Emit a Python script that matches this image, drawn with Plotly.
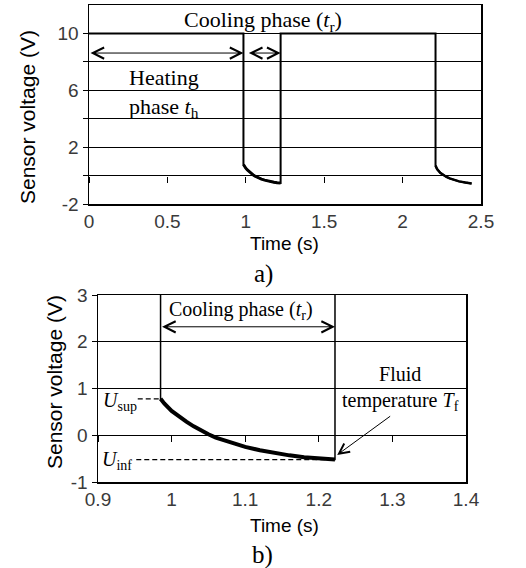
import plotly.graph_objects as go

W, H = 526, 568

# ---------------- data ----------------
heat_level = 10.0
heat1_t = [0.0, 0.985]
cool1_t = [0.985, 0.99, 1.0, 1.01, 1.02, 1.03, 1.04, 1.05, 1.06, 1.08,
           1.10, 1.12, 1.14, 1.16, 1.18, 1.20, 1.222]
cool1_v = [0.78, 0.68, 0.52, 0.40, 0.29, 0.19, 0.10, 0.02, -0.05, -0.16,
           -0.25, -0.32, -0.38, -0.43, -0.47, -0.50, -0.52]
heat2_t = [1.222, 2.21]
cool2_t = [2.21, 2.22, 2.24, 2.26, 2.28, 2.30, 2.33, 2.36, 2.40, 2.44]
cool2_v = [0.70, 0.45, 0.20, 0.02, -0.10, -0.20, -0.32, -0.41, -0.49, -0.55]

signal_t = heat1_t + cool1_t + heat2_t + cool2_t
signal_v = [heat_level] * 2 + cool1_v + [heat_level] * 2 + cool2_v

top_xticks = [0, 0.5, 1, 1.5, 2, 2.5]
top_xlabels = ["0", "0.5", "1", "1.5", "2", "2.5"]
top_yticks = [-2, 0, 2, 4, 6, 8, 10]
top_ylabels = ["-2", "", "2", "", "6", "", "10"]
bot_xticks = [0.9, 1.0, 1.1, 1.2, 1.3, 1.4]
bot_xlabels = ["0.9", "1", "1.1", "1.2", "1.3", "1.4"]
bot_yticks = [-1, 0, 1, 2, 3]
bot_ylabels = ["-1", "0", "1", "2", "3"]

u_sup = cool1_v[0]
u_inf = cool1_v[-1]

# ---------------- layout helpers ----------------
def px(x):
    return x / W

def py(y):
    return 1 - y / H

top_xdom = [px(89), px(481)]
top_ydom = [py(204), py(5)]
bot_xdom = [px(98), px(466)]
bot_ydom = [py(482), py(295)]
top_xr, top_yr = [0, 2.5], [-2, 12]
bot_xr, bot_yr = [0.9, 1.4], [-1, 3]

def zero_pos(dom, rng):
    return dom[0] + (0 - rng[0]) / (rng[1] - rng[0]) * (dom[1] - dom[0])

SANS = "Liberation Sans, Arial, sans-serif"
SERIF = "Liberation Serif, Times New Roman, serif"
tickfont = dict(family=SANS, size=19, color="#3a3a3a")

fig = go.Figure()

# signal traces
fig.add_trace(go.Scatter(x=signal_t, y=signal_v, mode="lines",
                         line=dict(color="black", width=2), xaxis="x", yaxis="y",
                         hoverinfo="skip"))
fig.add_trace(go.Scatter(x=cool1_t, y=cool1_v, mode="lines",
                         line=dict(color="black", width=3), xaxis="x", yaxis="y",
                         hoverinfo="skip"))
fig.add_trace(go.Scatter(x=cool2_t, y=cool2_v, mode="lines",
                         line=dict(color="black", width=2.5), xaxis="x", yaxis="y",
                         hoverinfo="skip"))
fig.add_trace(go.Scatter(x=signal_t, y=signal_v, mode="lines",
                         line=dict(color="black", width=1.5), xaxis="x2", yaxis="y2",
                         hoverinfo="skip"))
fig.add_trace(go.Scatter(x=cool1_t, y=cool1_v, mode="lines",
                         line=dict(color="black", width=4), xaxis="x2", yaxis="y2",
                         hoverinfo="skip"))
# carriers for the zero-line tick axes
fig.add_trace(go.Scatter(x=signal_t, y=signal_v, mode="lines", opacity=0,
                         line=dict(width=0), xaxis="x3", yaxis="y", hoverinfo="skip"))
fig.add_trace(go.Scatter(x=signal_t, y=signal_v, mode="lines", opacity=0,
                         line=dict(width=0), xaxis="x4", yaxis="y2", hoverinfo="skip"))

xcommon = dict(showline=True, mirror=True, linecolor="black", linewidth=1.5,
               ticks="", tickfont=tickfont, zeroline=False, automargin=False,
               showgrid=False)
ycommon = dict(showline=True, mirror=True, linecolor="black", linewidth=1.5,
               ticks="outside", ticklen=5, tickcolor="black", tickwidth=1,
               tickfont=tickfont, zeroline=False, automargin=False,
               showgrid=True, gridcolor="black", gridwidth=1)
zcommon = dict(ticks="outside", ticklen=6, tickcolor="black", showticklabels=False,
               showline=False, showgrid=False, zeroline=False, automargin=False,
               anchor="free")

fig.update_layout(
    width=W, height=H, margin=dict(l=0, r=0, t=0, b=0, pad=0, autoexpand=False),
    paper_bgcolor="white", plot_bgcolor="white", showlegend=False,
    xaxis=dict(domain=top_xdom, range=top_xr, anchor="y", tickvals=top_xticks,
               ticktext=top_xlabels, **xcommon),
    yaxis=dict(domain=top_ydom, range=top_yr, anchor="x", tickvals=top_yticks,
               ticktext=top_ylabels, **ycommon),
    xaxis2=dict(domain=bot_xdom, range=bot_xr, anchor="y2", tickvals=bot_xticks,
                ticktext=bot_xlabels, **xcommon),
    yaxis2=dict(domain=bot_ydom, range=bot_yr, anchor="x2", tickvals=bot_yticks,
                ticktext=bot_ylabels, **ycommon),
    xaxis3=dict(domain=top_xdom, range=top_xr, overlaying="x",
                position=zero_pos(top_ydom, top_yr), tickvals=top_xticks, **zcommon),
    xaxis4=dict(domain=bot_xdom, range=bot_xr, overlaying="x2",
                position=zero_pos(bot_ydom, bot_yr), tickvals=bot_xticks, **zcommon),
)

ann = []

def ptext(text, x, y, size, family=SANS, angle=0, xanchor="center", align="center"):
    ann.append(dict(text=text, x=px(x), y=py(y), xref="paper", yref="paper",
                    showarrow=False, textangle=angle, xanchor=xanchor,
                    yanchor="middle", align=align,
                    font=dict(family=family, size=size, color="black")))

# axis titles and captions
ptext("Sensor voltage (V)", 27, 117, 21, angle=-90)
ptext("Time (s)", 284, 243, 19)
ptext("a)", 263, 274, 25, family=SERIF)
ptext("Sensor voltage (V)", 54, 382, 21, angle=-90)
ptext("Time (s)", 284, 525, 19)
ptext("b)", 262, 555, 25, family=SERIF)

# top chart texts
ptext("Cooling phase (<i>t</i><sub>r</sub>)", 263, 21, 22, family=SERIF)
ptext("Heating<br>phase <i>t</i><sub>h</sub>", 127, 93, 22, family=SERIF,
      xanchor="left", align="left")
# bottom chart texts
ptext("Cooling phase (<i>t</i><sub>r</sub>)", 241, 310, 20, family=SERIF)
ptext("Fluid<br>temperature <i>T</i><sub>f</sub>", 400, 388, 20, family=SERIF)
ptext("<i>U</i><sub>sup</sub>", 120, 402, 20, family=SERIF)
ptext("<i>U</i><sub>inf</sub>", 117, 460, 20, family=SERIF)

def darrow(x0, x1, y, xr, yr):
    ann.append(dict(text="", x=x1, y=y, ax=x0, ay=y, xref=xr, yref=yr,
                    axref=xr, ayref=yr, showarrow=True, arrowside="end+start",
                    arrowhead=5, startarrowhead=5, arrowsize=2.2, startarrowsize=2.2,
                    arrowwidth=1, arrowcolor="black"))

darrow(0.0, 0.985, 8.62, "x", "y")
darrow(1.01, 1.222, 8.62, "x", "y")
darrow(0.985, 1.222, 2.32, "x2", "y2")

# fluid temperature pointer
ann.append(dict(text="", x=1.225, y=-0.42, ax=1.299, ay=0.43, xref="x2", yref="y2",
                axref="x2", ayref="y2", showarrow=True, arrowhead=5, arrowsize=2.0,
                arrowwidth=1, arrowcolor="black"))

fig.update_layout(annotations=ann)

# dashed reference lines for U_sup and U_inf
fig.add_shape(type="line", xref="x2", yref="y2", x0=0.954, x1=cool1_t[0],
              y0=u_sup, y1=u_sup, line=dict(color="black", width=1.2, dash="5px,3px"))
fig.add_shape(type="line", xref="x2", yref="y2", x0=0.952, x1=cool1_t[-1],
              y0=u_inf, y1=u_inf, line=dict(color="black", width=1.2, dash="5px,3px"))

fig.write_html(
    "out.html",
    config={"displayModeBar": False, "staticPlot": True},
    post_script="document.body.style.margin='0';document.body.style.padding='0';"
                "document.body.style.overflow='hidden';",
)
